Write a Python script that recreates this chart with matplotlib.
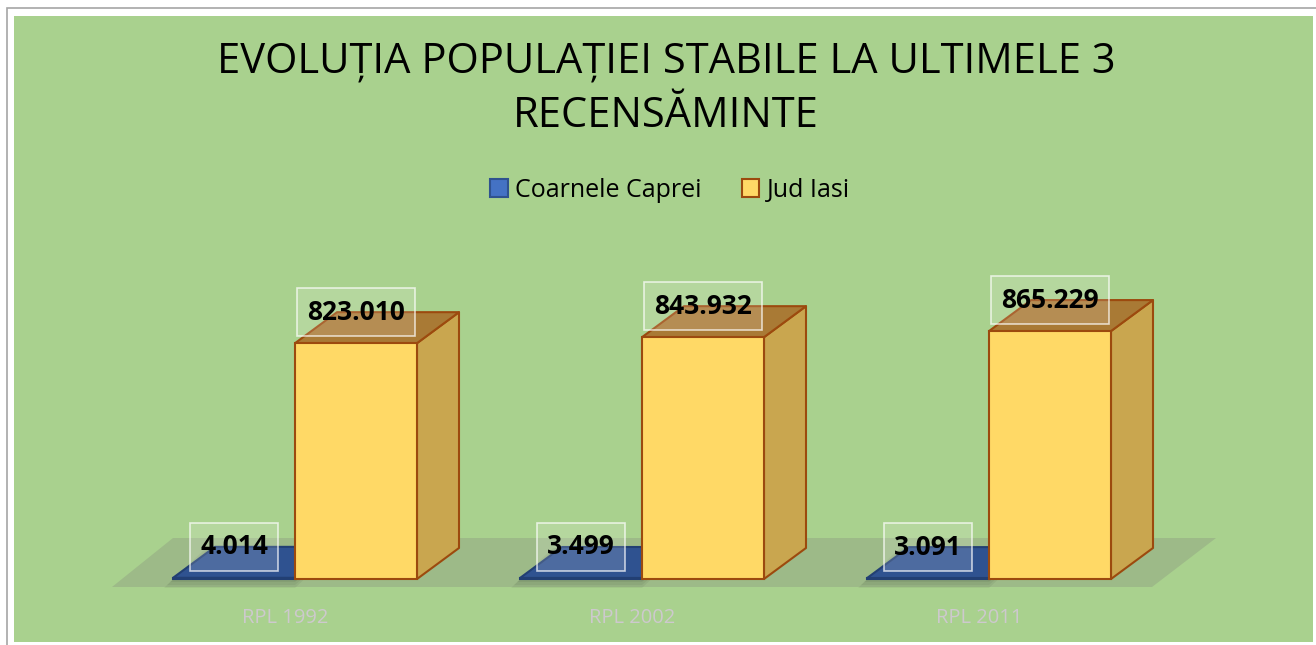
import matplotlib.pyplot as plt
import numpy as np
from matplotlib.patches import Polygon, Rectangle

plt.rcParams['font.family'] = ['Open Sans', 'DejaVu Sans']

categories = ['RPL 1992', 'RPL 2002', 'RPL 2011']
series_names = ['Coarnele Caprei', 'Jud Iasi']
coarnele = [4014, 3499, 3091]
jud_iasi = [823010, 843932, 865229]
title = 'EVOLUȚIA POPULAȚIEI STABILE LA ULTIMELE 3\nRECENSĂMINTE'

W, H = 1316, 645
fig = plt.figure(figsize=(W / 100, H / 100), dpi=100)
fig.patch.set_facecolor('white')

# background frame (pixel coords)
bg = fig.add_axes([0, 0, 1, 1])
bg.set_xlim(0, W)
bg.set_ylim(H, 0)
bg.axis('off')
bg.add_patch(Rectangle((7, 8), W, H, facecolor='white', edgecolor='#a6a6a6', lw=1.2))
bg.add_patch(Rectangle((14, 16), W - 17, H - 19, facecolor='#a9d18e', edgecolor='none'))

# main axes: one x unit per category group, y in persons
px_x = 1 / 347          # one pixel in x units
px_y = 3490             # one pixel in y units
ax = fig.add_axes([0, 0, 1, 1])
ax.set_xlim(-295 * px_x, (W - 295) * px_x)
ax.set_ylim(-(H - 579) * px_y, 579 * px_y)
ax.axis('off')
ax.patch.set_alpha(0)

w = 122 * px_x          # bar width
dx, dy = 42 * px_x, 31 * px_y   # bar depth
x = np.arange(len(categories))

# floor
x0, x1 = x[0] - w, x[-1] + w
floor = [(x0 - 61 * px_x, -8 * px_y), (x1 + 41 * px_x, -8 * px_y),
         (x1 + 105 * px_x, 41 * px_y), (x0, 41 * px_y)]
ax.add_patch(Polygon(floor, closed=True, facecolor='#9dba88', edgecolor='none', zorder=1))


def bar3d(left, v, front, side, top, edge, z):
    ax.add_patch(Polygon([(left + w, 0), (left + w + dx, dy), (left + w + dx, v + dy), (left + w, v)],
                         facecolor=side, edgecolor=edge, lw=1.5, zorder=z, joinstyle='round'))
    ax.add_patch(Polygon([(left, v), (left + w, v), (left + w + dx, v + dy), (left + dx, v + dy)],
                         facecolor=top, edgecolor=edge, lw=1.5, zorder=z, joinstyle='round'))
    ax.add_patch(Rectangle((left, 0), w, v, facecolor=front, edgecolor=edge, lw=1.5, zorder=z + 0.1))


def fmt(v):
    return f'{v:,}'.replace(',', '.')


box = dict(boxstyle='square,pad=0.4', facecolor=(1, 1, 1, 0.15), edgecolor=(1, 1, 1, 0.7), lw=1.2)

for i in x:
    # soft shadow around the flat bar
    for g in (3, 6, 9):
        ax.add_patch(Polygon([(i - w - g * px_x, -g * px_y), (i, -g * px_y),
                              (i + dx, dy), (i - w + dx - g * px_x, dy)],
                             facecolor='black', alpha=0.05, edgecolor='none', zorder=2))
    bar3d(i - w, coarnele[i], '#4472c4', '#2f5597', '#2f5290', '#223f73', 3)
    bar3d(i, jud_iasi[i], '#ffd966', '#c9a64f', '#a97a35', '#9c4a0e', 4)
    ax.text(i - w / 2, coarnele[i] + dy, fmt(coarnele[i]), ha='center', va='center',
            fontsize=19, fontweight='bold', color='black', bbox=box, zorder=10)
    ax.text(i + w / 2, jud_iasi[i] + dy, fmt(jud_iasi[i]), ha='center', va='center',
            fontsize=19, fontweight='bold', color='black', bbox=box, zorder=10)
    ax.text(i - 0.028, -39 * px_y, categories[i], ha='center', va='center',
            fontsize=14.5, color='#cdc9cd', zorder=5)

fig.text(666 / W, 1 - 89 / H, title, ha='center', va='center', fontsize=30,
         linespacing=1.4, color='black')

handles = [Rectangle((0, 0), 1, 1, facecolor='#4472c4', edgecolor='#2f528f', lw=1.5),
           Rectangle((0, 0), 1, 1, facecolor='#ffd966', edgecolor='#9c4a0e', lw=1.5)]
fig.legend(handles, series_names, loc='center', bbox_to_anchor=(670 / W, 1 - 190 / H),
           ncol=2, frameon=False, fontsize=18, handlelength=0.7, handleheight=0.7,
           handletextpad=0.3, columnspacing=1.6)

fig.savefig('out.png', dpi=100)
